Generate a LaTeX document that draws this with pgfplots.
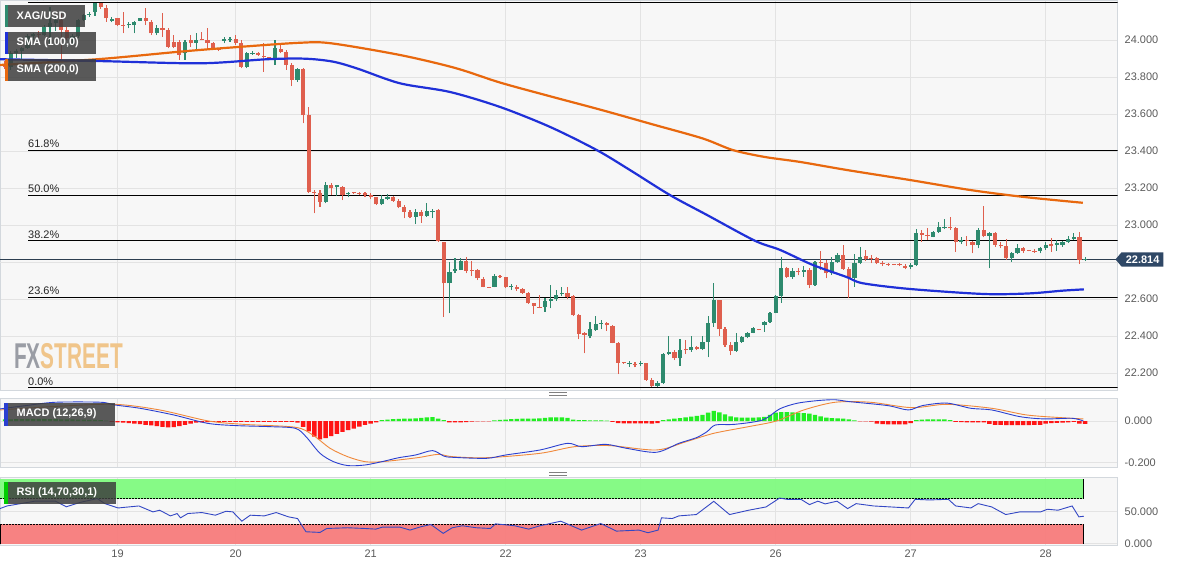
\documentclass[border=0pt]{standalone}
\usepackage{fontspec}
\setmainfont{Liberation Sans}
\usepackage{pgfplots}
\usepackage{pgfplotstable}
\pgfplotsset{compat=1.18}
\definecolor{cup}{HTML}{2E8A6E}
\definecolor{cdown}{HTML}{DF5F4E}
\definecolor{smaA}{HTML}{1F30D8}
\definecolor{smaB}{HTML}{E8680E}
\definecolor{pline}{HTML}{2C3E50}
\definecolor{tagc}{HTML}{2F4866}
\definecolor{hgreen}{HTML}{22EE22}
\definecolor{hred}{HTML}{FF1515}
\definecolor{macdc}{HTML}{2A3FD0}
\definecolor{sigc}{HTML}{F0883A}
\definecolor{rsic}{HTML}{3347C4}
\definecolor{bandg}{HTML}{80FB80}
\definecolor{bandr}{HTML}{F87C7C}
\definecolor{bg}{HTML}{F7F7F7}
\definecolor{gridc}{HTML}{E3E3E3}
\definecolor{borderc}{HTML}{D3D8DD}
\definecolor{tickc}{HTML}{5A5A5A}
\definecolor{lbox}{HTML}{3E3E3E}
\definecolor{wmgray}{HTML}{9A9DA5}
\definecolor{wmorange}{HTML}{F0C58A}
\newcommand{\tickfont}{\fontsize{11}{13}\selectfont}
\newcommand{\lfont}{\bfseries\fontsize{11}{13}\selectfont}

\pgfplotstableread{
n o h l c
0 23.870 23.885 23.845 23.856
1 23.856 23.940 23.840 23.928
2 23.928 23.950 23.900 23.940
3 23.940 23.960 23.890 23.955
4 23.955 24.030 23.950 24.020
5 24.020 24.040 24.000 24.030
6 24.030 24.050 24.010 24.025
7 24.025 24.080 24.020 24.070
8 24.070 24.180 23.980 24.090
9 24.090 24.130 24.050 24.110
10 24.110 24.140 23.890 24.054
11 24.054 24.070 24.000 24.009
12 24.009 24.030 23.980 24.020
13 24.020 24.115 24.010 24.108
14 24.108 24.140 24.100 24.135
15 24.135 24.150 24.125 24.140
16 24.153 24.200 24.130 24.198
17 24.198 24.200 24.170 24.180
18 24.171 24.189 24.099 24.117
19 24.105 24.125 24.095 24.112
20 24.117 24.120 24.075 24.081
21 24.083 24.153 24.036 24.079
22 24.079 24.099 24.063 24.084
23 24.081 24.102 24.036 24.099
24 24.104 24.120 24.100 24.117
25 24.117 24.171 24.081 24.104
26 24.099 24.108 24.027 24.036
27 24.036 24.081 24.027 24.063
28 24.066 24.144 24.018 24.054
29 24.054 24.063 23.955 23.964
30 23.991 24.027 23.955 23.964
31 23.991 24.000 23.892 23.919
32 23.928 24.000 23.892 23.991
33 24.000 24.027 23.964 23.982
34 23.985 24.036 23.946 24.000
35 24.001 24.045 23.998 23.999
36 24.000 24.063 23.946 23.985
37 23.982 23.991 23.946 23.955
38 23.947 23.950 23.940 23.945
39 23.996 24.018 23.982 24.003
40 24.000 24.018 23.991 24.002
41 24.003 24.027 23.973 23.985
42 23.985 24.000 23.847 23.856
43 23.856 23.937 23.847 23.928
44 23.924 23.940 23.920 23.931
45 23.931 23.935 23.915 23.919
46 23.912 23.982 23.829 23.908
47 23.906 23.910 23.890 23.897
48 23.901 23.999 23.865 23.955
49 23.949 23.973 23.928 23.937
50 23.937 23.946 23.838 23.865
51 23.865 23.874 23.751 23.784
52 23.784 23.847 23.775 23.841
53 23.841 23.847 23.549 23.594
54 23.594 23.639 23.171 23.180
55 23.180 23.189 23.063 23.171
56 23.171 23.189 23.099 23.126
57 23.126 23.234 23.117 23.216
58 23.216 23.225 23.162 23.198
59 23.203 23.216 23.156 23.216
60 23.207 23.210 23.135 23.162
61 23.167 23.180 23.149 23.174
62 23.174 23.178 23.168 23.172
63 23.174 23.180 23.162 23.171
64 23.171 23.180 23.153 23.162
65 23.162 23.171 23.138 23.149
66 23.149 23.153 23.108 23.111
67 23.111 23.162 23.108 23.138
68 23.138 23.167 23.135 23.149
69 23.153 23.156 23.126 23.131
70 23.131 23.138 23.090 23.095
71 23.095 23.108 23.036 23.072
72 23.072 23.081 23.036 23.045
73 23.045 23.084 23.005 23.072
74 23.072 23.081 23.012 23.048
75 23.048 23.117 23.045 23.077
76 23.074 23.084 23.036 23.077
77 23.081 23.084 22.910 22.913
78 22.910 22.910 22.504 22.684
79 22.684 22.802 22.522 22.747
80 22.753 22.820 22.738 22.760
81 22.756 22.820 22.756 22.807
82 22.807 22.825 22.738 22.753
83 22.757 22.807 22.724 22.755
84 22.756 22.760 22.702 22.711
85 22.706 22.720 22.663 22.666
86 22.664 22.665 22.661 22.662
87 22.666 22.735 22.663 22.724
88 22.724 22.729 22.711 22.717
89 22.717 22.720 22.657 22.663
90 22.663 22.681 22.648 22.670
91 22.666 22.675 22.645 22.652
92 22.652 22.657 22.627 22.634
93 22.630 22.639 22.573 22.576
94 22.576 22.580 22.519 22.562
95 22.558 22.621 22.549 22.555
96 22.558 22.603 22.531 22.591
97 22.591 22.675 22.549 22.598
98 22.598 22.648 22.591 22.621
99 22.627 22.666 22.616 22.634
100 22.634 22.666 22.598 22.612
101 22.616 22.621 22.508 22.513
102 22.513 22.519 22.382 22.411
103 22.414 22.423 22.306 22.405
104 22.400 22.477 22.387 22.436
105 22.432 22.510 22.429 22.465
106 22.465 22.486 22.436 22.468
107 22.468 22.477 22.429 22.459
108 22.454 22.459 22.360 22.364
109 22.364 22.369 22.194 22.256
110 22.257 22.260 22.250 22.255
111 22.247 22.266 22.234 22.252
112 22.244 22.261 22.230 22.242
113 22.248 22.266 22.238 22.256
114 22.252 22.256 22.158 22.162
115 22.162 22.171 22.126 22.129
116 22.129 22.158 22.122 22.144
117 22.144 22.310 22.140 22.302
118 22.302 22.400 22.297 22.315
119 22.315 22.324 22.270 22.279
120 22.279 22.382 22.238 22.324
121 22.325 22.378 22.302 22.323
122 22.324 22.400 22.315 22.338
123 22.338 22.346 22.324 22.328
124 22.328 22.400 22.324 22.369
125 22.369 22.508 22.284 22.468
126 22.468 22.688 22.450 22.594
127 22.594 22.594 22.400 22.436
128 22.436 22.450 22.342 22.351
129 22.351 22.369 22.297 22.320
130 22.320 22.418 22.315 22.369
131 22.369 22.400 22.364 22.393
132 22.393 22.423 22.387 22.418
133 22.418 22.447 22.414 22.441
134 22.437 22.440 22.430 22.435
135 22.459 22.483 22.423 22.477
136 22.477 22.531 22.472 22.526
137 22.526 22.621 22.522 22.616
138 22.616 22.825 22.580 22.766
139 22.766 22.775 22.716 22.721
140 22.721 22.766 22.709 22.753
141 22.753 22.766 22.727 22.748
142 22.748 22.778 22.721 22.757
143 22.757 22.766 22.657 22.676
144 22.676 22.807 22.671 22.802
145 22.802 22.861 22.757 22.793
146 22.793 22.811 22.712 22.739
147 22.739 22.825 22.730 22.802
148 22.802 22.850 22.796 22.838
149 22.838 22.892 22.757 22.760
150 22.760 22.775 22.603 22.712
151 22.712 22.843 22.667 22.793
152 22.793 22.883 22.789 22.829
153 22.832 22.865 22.807 22.814
154 22.820 22.838 22.793 22.814
155 22.820 22.825 22.789 22.793
156 22.793 22.805 22.778 22.787
157 22.788 22.795 22.780 22.786
158 22.787 22.790 22.783 22.786
159 22.787 22.795 22.778 22.782
160 22.780 22.787 22.760 22.769
161 22.775 22.793 22.760 22.784
162 22.784 22.976 22.778 22.955
163 22.958 22.973 22.910 22.946
164 22.946 22.985 22.919 22.940
165 22.937 22.969 22.933 22.964
166 22.964 23.018 22.958 22.991
167 22.982 23.030 22.976 22.991
168 22.991 23.045 22.973 22.982
169 22.982 22.991 22.856 22.906
170 22.906 22.937 22.897 22.919
171 22.919 22.940 22.886 22.913
172 22.910 22.913 22.847 22.892
173 22.892 22.982 22.874 22.973
174 22.973 23.102 22.933 22.940
175 22.940 22.964 22.766 22.955
176 22.955 22.964 22.883 22.892
177 22.892 22.910 22.874 22.886
178 22.886 22.922 22.811 22.820
179 22.820 22.856 22.802 22.850
180 22.850 22.897 22.843 22.874
181 22.874 22.883 22.850 22.861
182 22.862 22.865 22.857 22.860
183 22.861 22.868 22.850 22.856
184 22.861 22.883 22.847 22.874
185 22.874 22.910 22.865 22.892
186 22.897 22.928 22.856 22.886
187 22.892 22.919 22.862 22.901
188 22.892 22.913 22.883 22.910
189 22.910 22.940 22.905 22.922
190 22.922 22.955 22.919 22.933
191 22.933 22.964 22.789 22.811
192 22.813 22.826 22.805 22.818
}\candles

\pgfplotstableread{
n v
-0.9 23.865
16.4 23.896
31.1 23.937
40.5 23.960
52.4 23.985
58 23.982
70.2 23.919
80 23.849
88 23.770
97 23.695
106 23.622
115 23.545
124 23.468
129.4 23.405
135 23.368
141.3 23.341
149.7 23.297
160.9 23.243
171.6 23.189
181 23.152
191.6 23.120
}\smab

\pgfplotstableread{
n v
-0.9 23.896
16.9 23.886
34.7 23.874
46.6 23.896
53.3 23.899
58.3 23.883
62.7 23.845
70.2 23.766
79.1 23.719
88 23.638
96.9 23.530
105.2 23.405
111.1 23.297
118.2 23.162
124.8 23.054
133.3 22.915
137.8 22.865
143.6 22.784
149.5 22.720
152.5 22.685
160.9 22.654
174 22.627
182 22.630
188 22.645
191.8 22.652
}\smaa

\pgfplotstableread{
n v
0 0.008
1 0.008
2 0.009
3 0.009
4 0.010
5 0.010
6 0.010
7 0.010
8 0.009
9 0.009
10 0.008
11 0.008
12 0.008
13 0.007
14 0.007
15 0.006
16 0.005
17 0.004
18 0.002
19 -0.004
20 -0.006
21 -0.008
22 -0.010
23 -0.012
24 -0.015
25 -0.018
26 -0.021
27 -0.025
28 -0.028
29 -0.030
30 -0.029
31 -0.024
32 -0.018
33 -0.012
34 -0.008
35 -0.006
36 -0.005
37 -0.004
38 -0.004
39 -0.004
40 -0.004
41 -0.004
42 -0.004
43 -0.004
44 -0.004
45 -0.004
46 -0.004
47 -0.004
48 -0.004
49 -0.004
50 -0.004
51 -0.004
52 -0.008
53 -0.028
54 -0.050
55 -0.075
56 -0.088
57 -0.082
58 -0.072
59 -0.062
60 -0.052
61 -0.044
62 -0.036
63 -0.027
64 -0.019
65 -0.012
66 -0.006
67 0.004
68 0.007
69 0.009
70 0.010
71 0.011
72 0.012
73 0.013
74 0.015
75 0.018
76 0.019
77 0.012
78 0.004
79 -0.006
80 -0.007
81 -0.006
82 -0.005
83 -0.003
84 -0.002
85 -0.002
86 -0.002
87 0.003
88 0.005
89 0.007
90 0.009
91 0.010
92 0.011
93 0.012
94 0.012
95 0.013
96 0.015
97 0.017
98 0.018
99 0.018
100 0.015
101 0.007
102 0.004
103 0.004
104 0.003
105 0.003
106 0.003
107 0.002
108 -0.004
109 -0.010
110 -0.011
111 -0.011
112 -0.011
113 -0.011
114 -0.011
115 -0.012
116 -0.010
117 0.004
118 0.008
119 0.012
120 0.014
121 0.018
122 0.021
123 0.025
124 0.030
125 0.040
126 0.048
127 0.042
128 0.032
129 0.022
130 0.017
131 0.016
132 0.016
133 0.016
134 0.018
135 0.020
136 0.030
137 0.040
138 0.043
139 0.043
140 0.042
141 0.040
142 0.038
143 0.035
144 0.030
145 0.022
146 0.016
147 0.014
148 0.013
149 0.012
150 0.008
151 0.003
152 -0.002
153 -0.002
154 -0.003
155 -0.012
156 -0.015
157 -0.016
158 -0.016
159 -0.016
160 -0.016
161 -0.010
162 0.004
163 0.007
164 0.008
165 0.008
166 0.008
167 0.008
168 0.004
169 -0.004
170 -0.005
171 -0.006
172 -0.006
173 -0.007
174 -0.006
175 -0.014
176 -0.018
177 -0.019
178 -0.020
179 -0.020
180 -0.020
181 -0.020
182 -0.020
183 -0.019
184 -0.018
185 -0.012
186 -0.010
187 -0.009
188 -0.008
189 -0.006
190 -0.004
191 -0.012
192 -0.014
}\hist

\pgfplotstableread{
n v
-0.9 0.058
4 0.075
9 0.090
17 0.090
19.5 0.077
24 0.061
30 0.029
36 -0.011
41 -0.022
47 -0.027
51.6 -0.035
53.5 -0.075
56 -0.155
58.4 -0.195
61 -0.214
64 -0.211
67 -0.195
70 -0.176
73 -0.163
76 -0.142
78 -0.168
79.5 -0.174
85.6 -0.179
89 -0.163
95.1 -0.139
100 -0.107
102.5 -0.123
106.8 -0.112
110.5 -0.131
115.8 -0.150
119.8 -0.107
122.9 -0.080
124.8 -0.051
126.3 -0.019
129.7 -0.016
134.7 0.005
137.7 0.058
140.8 0.085
144.5 0.098
147.6 0.102
150.1 0.093
156.9 0.074
160.6 0.053
163.1 0.074
167.4 0.086
171.7 0.061
175.4 0.053
180.4 0.021
184.7 0.010
189.7 0.013
191.7 0.000
}\macd

\pgfplotstableread{
n v
-0.9 0.053
9 0.070
19.5 0.080
27.5 0.053
36.2 0.000
42.4 -0.016
51.6 -0.030
54.7 -0.067
57.8 -0.131
60.9 -0.171
64 -0.195
67.1 -0.195
73.3 -0.176
77 -0.160
79.5 -0.171
85.6 -0.176
95.1 -0.155
101.3 -0.123
107.5 -0.118
115.8 -0.139
121.1 -0.099
126 -0.059
132.2 -0.027
137.1 0.000
142 0.053
147.6 0.090
153.8 0.090
161.2 0.064
167.4 0.080
175.4 0.061
181.6 0.029
187.8 0.016
191.7 0.010
}\signal

\pgfplotstableread{
n v
-0.9 54.6
0.35 58.7
5.3 66.1
9.0 66.1
10.9 57.4
13.3 64.1
16.4 70.2
17.7 62.5
20.1 55.6
23.8 58.7
26.3 49.5
27.5 52.1
29.4 43.3
30.6 46.9
31.2 40.3
32.5 47.0
35.0 48.5
37.4 44.4
39.3 50.5
40.5 49.5
42.1 35.1
43.6 44.4
46.1 43.3
48.2 48.5
50.4 41.8
52.0 39.2
53.5 18.7
56.0 17.7
57.2 23.8
60.9 24.9
64.0 23.8
65.9 22.8
67.1 25.9
70.2 25.9
72.0 21.3
73.9 26.4
75.7 30.0
77.9 16.2
79.5 24.9
81.3 28.0
83.8 24.9
86.3 23.8
87.2 31.0
90.6 28.0
93.1 22.8
95.1 28.0
98.8 35.1
102.5 21.3
105.9 31.5
108.7 19.7
112.7 21.3
114.3 17.2
116.1 21.3
116.7 40.3
118.6 39.2
119.8 43.3
122.9 45.4
126.0 65.9
128.8 45.4
132.2 52.1
135.3 57.2
137.7 71.0
139.0 69.0
141.5 69.0
143.0 60.8
144.5 66.1
145.8 61.9
147.9 66.1
149.8 54.6
151.3 62.3
154.4 58.7
160.6 55.6
161.8 69.0
164.3 68.0
167.7 69.0
169.0 58.7
171.7 55.6
173.0 62.3
175.4 57.2
177.9 45.4
180.4 49.5
184.1 49.5
185.3 53.6
187.2 52.1
189.7 58.7
190.9 41.8
191.8 42.8
}\rsi

\pgfplotsset{
  panel/.style={
    scale only axis, width=1117.7bp,
    xmin=-0.889, xmax=197.8,
    axis background/.style={fill=bg},
    axis line style={draw=borderc, line width=0.8bp},
    grid=major, major grid style={draw=gridc, line width=0.8bp},
    major tick length=0pt,
    xtick={20,41,65,89,113,137,161,185}, xticklabels={},
    yticklabel pos=right,
    scaled y ticks=false,
    yticklabel style={font=\tickfont, text=tickc, xshift=3.5bp,
      /pgf/number format/fixed, /pgf/number format/fixed zerofill,
      /pgf/number format/precision=3, /pgf/number format/assume math mode=true},
  },
  wick/.style={draw=none, mark=none, forget plot,
    error bars/y dir=plus, error bars/y explicit, error bars/error mark=none,
    error bars/error bar style={line width=1.1bp, draw=#1}},
  body/.style={draw=none, mark=none, forget plot,
    error bars/y dir=plus, error bars/y explicit, error bars/error mark=none,
    error bars/error bar style={line width=4.2bp, draw=#1}},
}

\begin{document}
\begin{tikzpicture}
\useasboundingbox (0,-571bp) rectangle (1182bp,0bp);

% ---------------- main price panel
\begin{axis}[panel, at={(0bp,-390bp)}, anchor=south west, height=390bp,
  ymin=22.108, ymax=24.2162,
  ytick={22.2,22.4,22.6,23.0,23.2,23.4,23.6,23.8,24.0}]
% Fibonacci levels (high 24.200, low 22.119)
\addplot[black, line width=1bp, forget plot] coordinates {(4.09,24.200) (197.8,24.200)};
\addplot[black, line width=1bp, forget plot] coordinates {(4.09,23.405) (197.8,23.405)};
\addplot[black, line width=1bp, forget plot] coordinates {(4.09,23.160) (197.8,23.160)};
\addplot[black, line width=1bp, forget plot] coordinates {(4.09,22.914) (197.8,22.914)};
\addplot[black, line width=1bp, forget plot] coordinates {(4.09,22.610) (197.8,22.610)};
\addplot[black, line width=1bp, forget plot] coordinates {(4.09,22.119) (197.8,22.119)};
\addplot[gridc, line width=0.8bp, forget plot] coordinates {(-0.889,22.8) (197.8,22.8)};
\addplot[pline, line width=0.9bp, forget plot] coordinates {(-0.889,22.814) (197.8,22.814)};
\node[anchor=south west, inner sep=0pt, font=\tickfont, text=black!85] at (axis cs:4.09,24.200) [yshift=2.5bp] {100.0\%};
\node[anchor=south west, inner sep=0pt, font=\tickfont, text=black!85] at (axis cs:4.09,23.405) [yshift=2.5bp] {61.8\%};
\node[anchor=south west, inner sep=0pt, font=\tickfont, text=black!85] at (axis cs:4.09,23.160) [yshift=2.5bp] {50.0\%};
\node[anchor=south west, inner sep=0pt, font=\tickfont, text=black!85] at (axis cs:4.09,22.914) [yshift=2.5bp] {38.2\%};
\node[anchor=south west, inner sep=0pt, font=\tickfont, text=black!85] at (axis cs:4.09,22.610) [yshift=2.5bp] {23.6\%};
\node[anchor=south west, inner sep=0pt, font=\tickfont, text=black!85] at (axis cs:4.09,22.119) [yshift=2.5bp] {0.0\%};
% candles
\addplot[wick=cup, restrict expr to domain={\thisrow{c}-\thisrow{o}}{0:5}]
  table[x=n, y=l, y error expr={\thisrow{h}-\thisrow{l}}] {\candles};
\addplot[wick=cdown, restrict expr to domain={\thisrow{c}-\thisrow{o}}{-5:-0.0001}]
  table[x=n, y=l, y error expr={\thisrow{h}-\thisrow{l}}] {\candles};
\addplot[body=cup, restrict expr to domain={\thisrow{c}-\thisrow{o}}{0:5}]
  table[x=n, y expr={min(\thisrow{o},\thisrow{c})}, y error expr={max(abs(\thisrow{c}-\thisrow{o}),0.004)}] {\candles};
\addplot[body=cdown, restrict expr to domain={\thisrow{c}-\thisrow{o}}{-5:-0.0001}]
  table[x=n, y expr={min(\thisrow{o},\thisrow{c})}, y error expr={max(abs(\thisrow{c}-\thisrow{o}),0.004)}] {\candles};
% moving averages
\addplot[smaB, line width=2.2bp, smooth, forget plot] table[x=n, y=v] {\smab};
\addplot[smaA, line width=2.2bp, smooth, forget plot] table[x=n, y=v] {\smaa};
\end{axis}

% ---------------- MACD panel
\begin{axis}[panel, at={(0bp,-467.7bp)}, anchor=south west, height=69.4bp,
  ymin=-0.224, ymax=0.1089, ytick={-0.2,0}]
\addplot[ybar, bar width=4.4bp, bar shift=0pt, fill=hgreen, draw=none, forget plot,
  restrict expr to domain={\thisrow{v}}{0:1}] table[x=n, y=v] {\hist};
\addplot[ybar, bar width=4.4bp, bar shift=0pt, fill=hred, draw=none, forget plot,
  restrict expr to domain={\thisrow{v}}{-1:-0.00001}] table[x=n, y=v] {\hist};
\addplot[sigc, line width=0.9bp, smooth, forget plot] table[x=n, y=v] {\signal};
\addplot[macdc, line width=0.9bp, smooth, forget plot] table[x=n, y=v] {\macd};
\end{axis}

% ---------------- RSI panel
\begin{axis}[panel, at={(0bp,-545.5bp)}, anchor=south west, height=67.8bp,
  ymin=-2.6, ymax=102.5, ytick={0,50},
  xticklabels={19,20,21,22,23,26,27,28},
  xticklabel style={font=\tickfont, text=tickc, yshift=-1bp}]
\addplot[fill=bandg, draw=none, fill opacity=0.95, forget plot] coordinates {(-0.889,70) (191.8,70) (191.8,100) (-0.889,100)} -- cycle;
\addplot[fill=bandr, draw=none, fill opacity=0.95, forget plot] coordinates {(-0.889,0) (191.8,0) (191.8,30) (-0.889,30)} -- cycle;
\addplot[black, line width=0.8bp, dash pattern=on 2bp off 1bp, forget plot] coordinates {(-0.889,70) (191.8,70)};
\addplot[black, line width=0.8bp, dash pattern=on 2bp off 1bp, forget plot] coordinates {(-0.889,30) (191.8,30)};
\addplot[black, line width=0.9bp, forget plot] coordinates {(191.8,70) (191.8,100)};
\addplot[black, line width=0.9bp, forget plot] coordinates {(191.8,0) (191.8,30)};
\addplot[black, line width=0.9bp, forget plot] coordinates {(-0.8,0) (-0.8,30)};
\addplot[rsic, line width=0.9bp, forget plot] table[x=n, y=v] {\rsi};
\end{axis}

% ---------------- labels and decorations
\fill[lbox, opacity=0.85] (5bp,-5bp) rectangle (85bp,-27bp);
\fill[cup] (5bp,-5bp) rectangle (8bp,-27bp);
\node[anchor=west, inner sep=0pt, text=white, font=\lfont] at (16.5bp,-16bp) {XAG/USD};
\fill[lbox, opacity=0.85] (5bp,-32bp) rectangle (96bp,-54bp);
\fill[smaA] (5bp,-32bp) rectangle (8bp,-54bp);
\node[anchor=west, inner sep=0pt, text=white, font=\lfont] at (16.5bp,-43bp) {SMA (100,0)};
\fill[lbox, opacity=0.85] (5bp,-59bp) rectangle (96bp,-81bp);
\fill[smaB] (5bp,-59bp) rectangle (8bp,-81bp);
\node[anchor=west, inner sep=0pt, text=white, font=\lfont] at (16.5bp,-70bp) {SMA (200,0)};

\fill[lbox, opacity=0.85] (4bp,-402.5bp) rectangle (115bp,-425.5bp);
\fill[macdc] (4bp,-402.5bp) rectangle (7.5bp,-425.5bp);
\node[anchor=west, inner sep=0pt, text=white, font=\lfont] at (16.5bp,-414bp) {MACD (12,26,9)};
\fill[lbox, opacity=0.85] (4bp,-481.7bp) rectangle (115.5bp,-503.7bp);
\fill[green!80!black] (4bp,-481.7bp) rectangle (7.5bp,-503.7bp);
\node[anchor=west, inner sep=0pt, text=white, font=\lfont] at (16.5bp,-492.7bp) {RSI (14,70,30,1)};

\node[anchor=west, inner sep=0pt, font=\bfseries\fontsize{36}{36}\selectfont] at (14bp,-356.5bp)
  {\scalebox{0.58}[1]{\textcolor{wmgray}{FX}\textcolor{wmorange}{STREET}}};

\foreach \yy in {392.8,395.3,472.8,475.3}
  \draw[black!50, line width=0.7bp] (549bp,-\yy bp) -- (567bp,-\yy bp);

\fill[tagc] (1115.5bp,-259.4bp) -- (1121.5bp,-252.3bp) -- (1163.3bp,-252.3bp)
  -- (1163.3bp,-266.5bp) -- (1121.5bp,-266.5bp) -- cycle;
\node[text=white, inner sep=0pt, font=\bfseries\fontsize{11}{13}\selectfont] at (1142.6bp,-259.4bp) {22.814};
\end{tikzpicture}
\end{document}
